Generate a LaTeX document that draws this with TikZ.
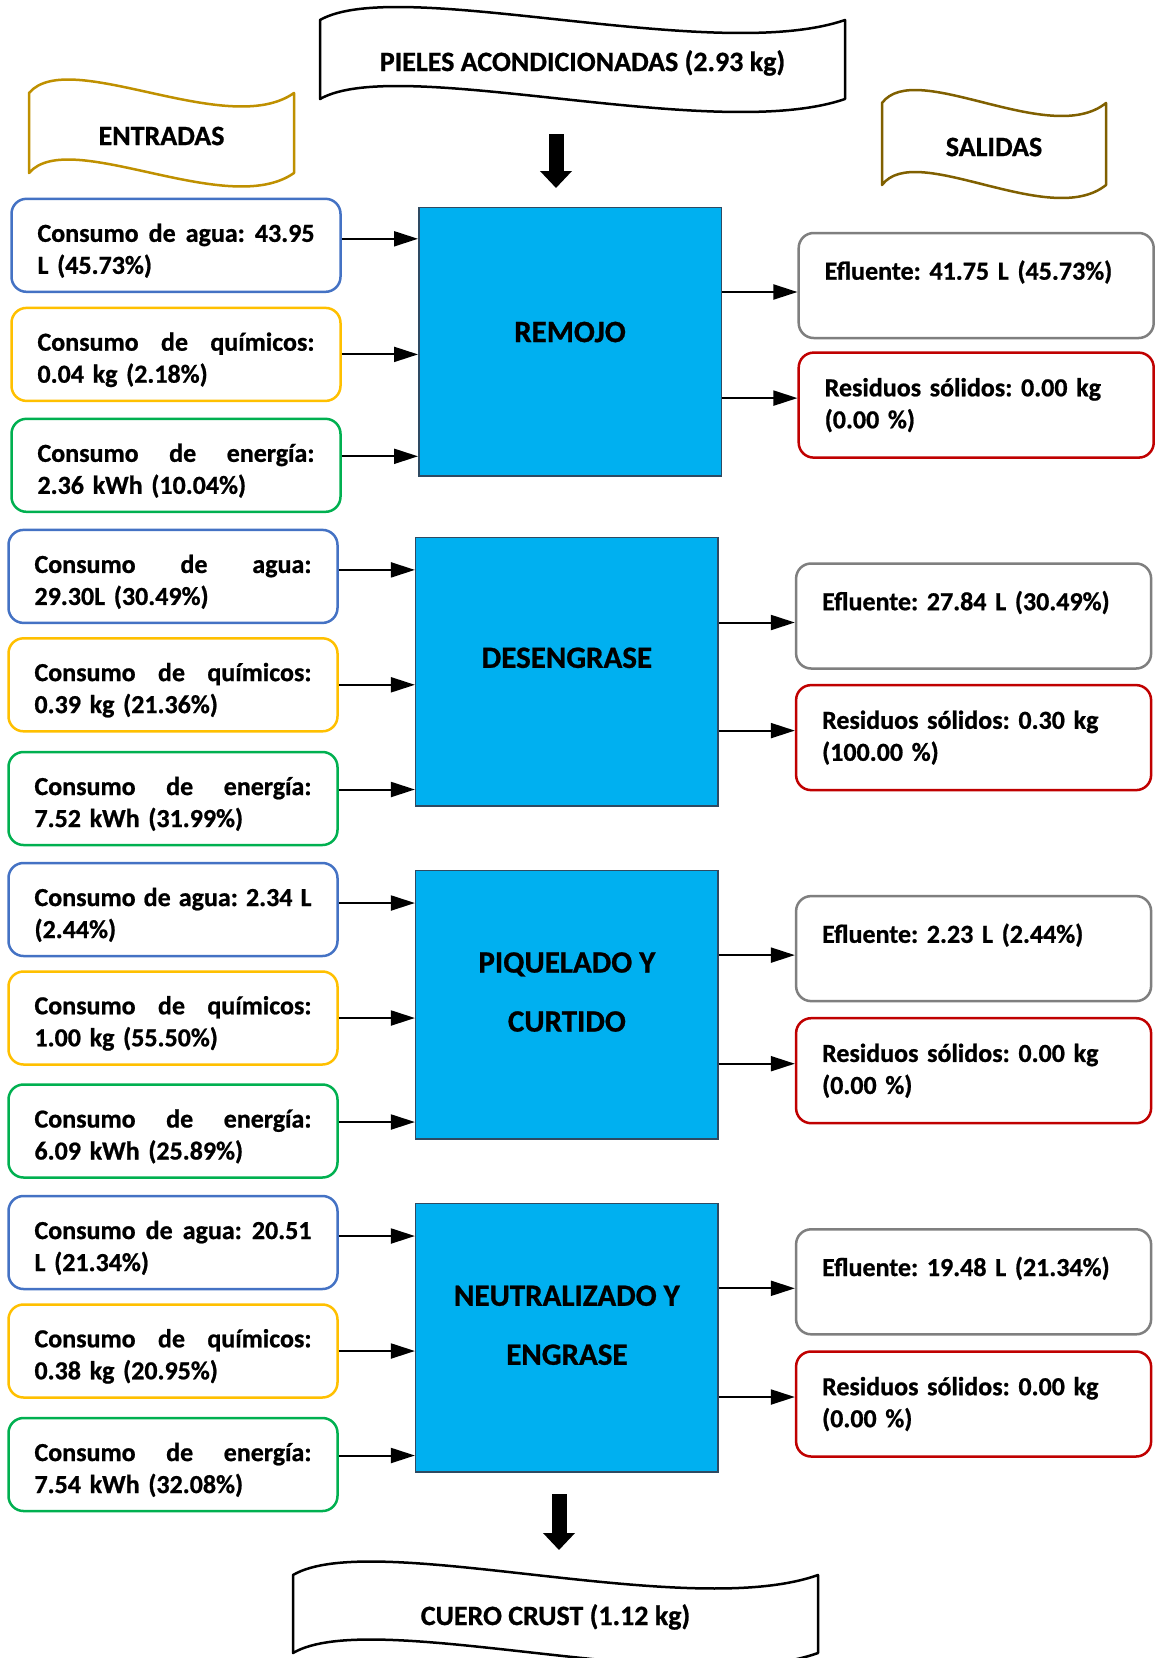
\documentclass[tikz,border=0pt]{standalone}
\usepackage{fontspec}
\setmainfont{Carlito}[BoldFeatures={FakeBold=0.8}]
\usetikzlibrary{arrows.meta}
\frenchspacing

\definecolor{cblue}{HTML}{4472C4}
\definecolor{cyel}{HTML}{FFC000}
\definecolor{cgreen}{HTML}{00B050}
\definecolor{cgray}{HTML}{7F7F7F}
\definecolor{cred}{HTML}{C00000}
\definecolor{cproc}{HTML}{00B0F0}
\definecolor{cprocb}{HTML}{2E4A62}
\definecolor{cgold}{HTML}{BF9000}
\definecolor{colive}{HTML}{806000}

\newcommand\bxfont{\fontsize{26}{32}\selectfont\bfseries}
\newcommand\prfont{\fontsize{31}{59}\selectfont\bfseries}
\newcommand\bnfont{\fontsize{28}{34}\selectfont\bfseries}
% first line of an input box, spread over the full text width (\hfill between words)
\newcommand\jl[1]{\rule{0pt}{29pt}\hbox to 277pt{#1}}
% first line of an output box
\newcommand\ol{\rule{0pt}{30pt}}
\newcommand\rl{\rule{0pt}{24pt}}

\begin{document}
\begin{tikzpicture}[x=1pt,y=-1pt,
  lbox/.style={draw=#1, line width=2.5pt, rounded corners=15pt, fill=white,
    minimum width=329pt, minimum height=93pt, inner sep=0pt,
    text width=277pt, align=left, font=\bxfont},
  rbox/.style={draw=#1, line width=2.5pt, rounded corners=15pt, fill=white,
    minimum width=355pt, minimum height=105pt, inner sep=0pt,
    text width=303pt, align=left, font=\bxfont},
  proc/.style={draw=cprocb, line width=1.5pt, fill=cproc,
    minimum width=302.5pt, minimum height=268.6pt, inner sep=0pt},
  proctext/.style={align=center, font=\prfont, inner sep=0pt},
  bantext/.style={font=\bnfont, inner sep=0pt},
  banner/.style={line width=2.5pt, fill=white, line join=round},
  arr/.style={line width=2pt, -{Triangle[length=24pt,width=15pt]}},
  bigarr/.style={line width=15pt, -{Triangle[length=17pt,width=31pt]}}
]
\fill[white] (0,0) rectangle (1157,1658);
\useasboundingbox (0,0) rectangle (1157,1658);

% ---------- wavy banners ----------
\draw[banner, draw=black] (320,20) .. controls (398.75,-25) and (713.75,65) .. (845,20)
  -- (845,99) .. controls (713.75,144) and (398.75,54) .. (320,99) -- cycle;
\node[bantext] (tin) at (582.5,63) {PIELES ACONDICIONADAS (2.93 kg)};

\draw[banner, draw=cgold] (29,93) .. controls (68.75,46.3) and (227.75,139.7) .. (294,93)
  -- (294,173) .. controls (227.75,219.7) and (68.75,126.3) .. (29,173) -- cycle;
\node[bantext] (ent) at (161.5,136) {ENTRADAS};

\draw[banner, draw=colive] (882,103) .. controls (915.6,58) and (1050,148) .. (1106,103)
  -- (1106,185) .. controls (1050,230) and (915.6,140) .. (882,185) -- cycle;
\node[bantext] (sal) at (994,147) {SALIDAS};

\draw[banner, draw=black] (293,1575) .. controls (371.75,1528.3) and (686.75,1621.7) .. (818,1575)
  -- (818,1653) .. controls (686.75,1699.7) and (371.75,1606.3) .. (293,1653) -- cycle;
\node[bantext] (tout) at (555.5,1617) {CUERO CRUST (1.12 kg)};

% ---------- main flow arrows ----------
\coordinate (topA) at (556,134);
\coordinate (topB) at (556,188);
\draw[bigarr] (topA) -- (topB);
\coordinate (botA) at (559,1494);
\coordinate (botB) at (559,1550);
\draw[bigarr] (botA) -- (botB);

% ---------- REMOJO ----------
\node[lbox=cblue]  (a1) at (176,245.3) {\jl{Consumo\hfill de\hfill agua:\hfill 43.95}\\L (45.73\%)};
\node[lbox=cyel]   (q1) at (176,354.4) {\jl{Consumo\hfill de\hfill químicos:}\\0.04 kg (2.18\%)};
\node[lbox=cgreen] (e1) at (176,465.3) {\jl{Consumo\hfill de\hfill energía:}\\2.36 kWh (10.04\%)};
\node[proc] (p1) at (570,341.6) {};
\node[proctext] (p1t) at (570,332) {REMOJO};
\node[rbox=cgray] (f1) at (976.2,285.5) {\ol Efluente: 41.75 L (45.73\%)\\\strut};
\node[rbox=cred]  (r1) at (976.2,405.1) {\rl Residuos sólidos: 0.00 kg\\\strut(0.00 \%)};

% ---------- DESENGRASE ----------
\node[lbox=cblue]  (a2) at (173,576.4) {\jl{Consumo\hfill de\hfill agua:}\\29.30L (30.49\%)};
\node[lbox=cyel]   (q2) at (173,684.8) {\jl{Consumo\hfill de\hfill químicos:}\\0.39 kg (21.36\%)};
\node[lbox=cgreen] (e2) at (173,798.5) {\jl{Consumo\hfill de\hfill energía:}\\7.52 kWh (31.99\%)};
\node[proc] (p2) at (566.9,671.6) {};
\node[proctext] (p2t) at (566.9,657.8) {DESENGRASE};
\node[rbox=cgray] (f2) at (973.6,616) {\ol Efluente: 27.84 L (30.49\%)\\\strut};
\node[rbox=cred]  (r2) at (973.6,737.6) {\rl Residuos sólidos: 0.30 kg\\\strut(100.00 \%)};

% ---------- PIQUELADO Y CURTIDO ----------
\node[lbox=cblue]  (a3) at (173,909.5) {\jl{Consumo\hfill de\hfill agua:\hfill 2.34\hfill L}\\(2.44\%)};
\node[lbox=cyel]   (q3) at (173,1018) {\jl{Consumo\hfill de\hfill químicos:}\\1.00 kg (55.50\%)};
\node[lbox=cgreen] (e3) at (173,1131) {\jl{Consumo\hfill de\hfill energía:}\\6.09 kWh (25.89\%)};
\node[proc] (p3) at (566.9,1004.7) {};
\node[proctext] (p3t) at (566.9,992) {PIQUELADO Y\\CURTIDO};
\node[rbox=cgray] (f3) at (973.6,948.6) {\ol Efluente: 2.23 L (2.44\%)\\\strut};
\node[rbox=cred]  (r3) at (973.6,1070.7) {\rl Residuos sólidos: 0.00 kg\\\strut(0.00 \%)};

% ---------- NEUTRALIZADO Y ENGRASE ----------
\node[lbox=cblue]  (a4) at (173,1242.5) {\jl{Consumo\hfill de\hfill agua:\hfill 20.51}\\L (21.34\%)};
\node[lbox=cyel]   (q4) at (173,1351) {\jl{Consumo\hfill de\hfill químicos:}\\0.38 kg (20.95\%)};
\node[lbox=cgreen] (e4) at (173,1464.5) {\jl{Consumo\hfill de\hfill energía:}\\7.54 kWh (32.08\%)};
\node[proc] (p4) at (566.9,1337.8) {};
\node[proctext] (p4t) at (566.9,1325.2) {NEUTRALIZADO Y\\ENGRASE};
\node[rbox=cgray] (f4) at (973.6,1281.8) {\ol Efluente: 19.48 L (21.34\%)\\\strut};
\node[rbox=cred]  (r4) at (973.6,1404) {\rl Residuos sólidos: 0.00 kg\\\strut(0.00 \%)};

% ---------- input and output connectors ----------
\foreach \i in {1,2,3,4} {
  \draw[arr] ([yshift=6.5pt]a\i.east) -- ([yshift=6.5pt]a\i.east -| p\i.west);
  \draw[arr] (q\i.east) -- (q\i.east -| p\i.west);
  \draw[arr] ([yshift=9pt]e\i.east) -- ([yshift=9pt]e\i.east -| p\i.west);
  \draw[arr] ([yshift=-6.5pt]f\i.west -| p\i.east) -- ([yshift=-6.5pt]f\i.west);
  \draw[arr] ([yshift=7pt]r\i.west -| p\i.east) -- ([yshift=7pt]r\i.west);
}
\end{tikzpicture}
\end{document}
